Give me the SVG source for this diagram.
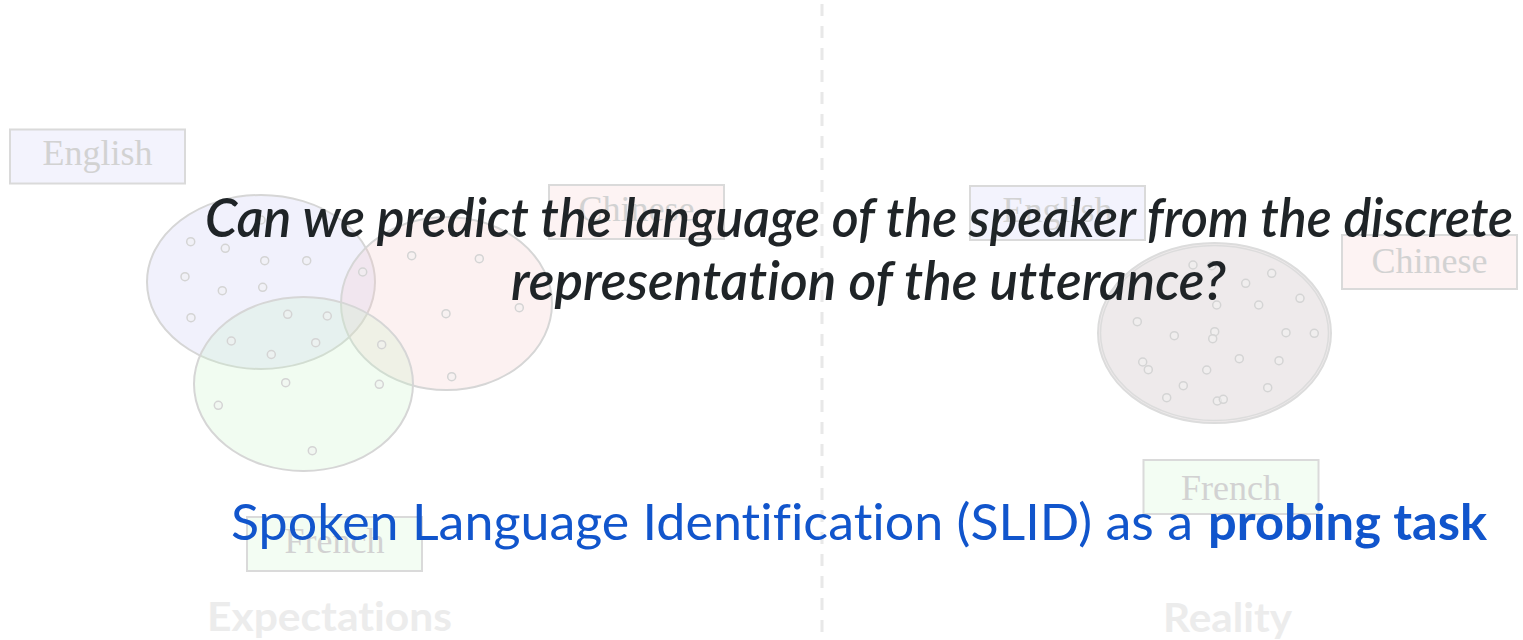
<svg xmlns="http://www.w3.org/2000/svg" width="1523" height="640" viewBox="0 0 1523 640">
<defs>
<style>
.bg{fill:#ffffff}
.div{stroke:#e8e8e8;stroke-width:3;stroke-dasharray:12 10;fill:none}
.ell{stroke:#d6d6d6;stroke-width:2}
.eb{fill:rgb(200,200,245);fill-opacity:0.25}
.er{fill:rgb(245,200,200);fill-opacity:0.25}
.eg{fill:rgb(200,245,200);fill-opacity:0.25}
.dot{fill:#f2f2f2;fill-opacity:0.5;stroke:#d4d4d4;stroke-width:1.5}
.box{stroke:#dadada;stroke-width:2}
.bxb{fill:#f3f3fd}
.bxr{fill:#fdf3f3}
.bxg{fill:#f3fdf3}
.lbl{font-family:"Liberation Serif",serif;font-size:36px;fill:#d2d2d2;text-anchor:middle}
.sec{font-family:Lato,"Liberation Sans",sans-serif;font-weight:bold;font-size:41px;fill:#ececec;font-variant-ligatures:none}
.q{font-family:Lato,"Liberation Sans",sans-serif;font-style:italic;font-weight:600;font-size:53px;fill:#1f2427;font-variant-ligatures:none}
.t{font-family:Lato,"Liberation Sans",sans-serif;font-size:50px;fill:#1155cc;font-variant-ligatures:none}
</style>
</defs>
<rect class="bg" x="0" y="0" width="1523" height="640"/>
<g id="divider">
<line class="div" x1="822" y1="4" x2="822" y2="640"/>
</g>
<g id="expectations">
<g id="cluster-english">
<ellipse class="ell eb" cx="261" cy="282" rx="114" ry="87"/>
</g>
<g id="cluster-chinese">
<ellipse class="ell er" cx="446.5" cy="303.5" rx="105.5" ry="86.5"/>
</g>
<g id="cluster-french">
<ellipse class="ell eg" cx="303.5" cy="384" rx="109.5" ry="87"/>
</g>
<g id="points-left">
<circle class="dot" cx="190.7" cy="241.7" r="4"/>
<circle class="dot" cx="225.3" cy="248.3" r="4"/>
<circle class="dot" cx="264.7" cy="260.7" r="4"/>
<circle class="dot" cx="306.7" cy="260.7" r="4"/>
<circle class="dot" cx="185" cy="276.7" r="4"/>
<circle class="dot" cx="222.3" cy="290.7" r="4"/>
<circle class="dot" cx="262.7" cy="287.3" r="4"/>
<circle class="dot" cx="191" cy="317.7" r="4"/>
<circle class="dot" cx="287.7" cy="314.3" r="4"/>
<circle class="dot" cx="327.3" cy="316" r="4"/>
<circle class="dot" cx="231.3" cy="341" r="4"/>
<circle class="dot" cx="271.3" cy="354.5" r="4"/>
<circle class="dot" cx="315.7" cy="342.7" r="4"/>
<circle class="dot" cx="261" cy="220" r="4"/>
<circle class="dot" cx="362.7" cy="272" r="4"/>
<circle class="dot" cx="411.7" cy="255.7" r="4"/>
<circle class="dot" cx="479.3" cy="258.7" r="4"/>
<circle class="dot" cx="446" cy="313.7" r="4"/>
<circle class="dot" cx="519.3" cy="307.7" r="4"/>
<circle class="dot" cx="381.7" cy="344.7" r="4"/>
<circle class="dot" cx="451.7" cy="376.7" r="4"/>
<circle class="dot" cx="379.3" cy="384.3" r="4"/>
<circle class="dot" cx="285.7" cy="382.7" r="4"/>
<circle class="dot" cx="218.3" cy="405.3" r="4"/>
<circle class="dot" cx="312.3" cy="450.7" r="4"/>
</g>
<g id="label-english-left">
<rect class="box bxb" x="10" y="129.5" width="175" height="54"/>
<text class="lbl" x="97.5" y="165">English</text>
</g>
<g id="label-chinese-left">
<rect class="box bxr" x="549" y="185" width="175" height="54"/>
<text class="lbl" x="636.5" y="221">Chinese</text>
</g>
<g id="label-french-left">
<rect class="box bxg" x="247" y="517" width="175" height="54"/>
<text class="lbl" x="334.5" y="553">French</text>
</g>
<g id="title-expectations">
<text class="sec" x="207" y="631" textLength="245" lengthAdjust="spacingAndGlyphs">Expectations</text>
</g>
</g>
<g id="reality">
<g id="cluster-mixed">
<ellipse cx="1214.5" cy="333" rx="116.5" ry="90" fill="#eeeaeb" stroke="#dcdcdc" stroke-width="2"/>
<ellipse cx="1214.5" cy="333" rx="114" ry="87.5" fill="none" stroke="#dcdcdc" stroke-width="1.5"/>
</g>
<g id="points-right">
<circle class="dot" cx="1211.7" cy="265.7" r="4"/>
<circle class="dot" cx="1271.7" cy="273.3" r="4"/>
<circle class="dot" cx="1245.7" cy="283.3" r="4"/>
<circle class="dot" cx="1300" cy="298.3" r="4"/>
<circle class="dot" cx="1216.7" cy="305" r="4"/>
<circle class="dot" cx="1258.7" cy="305" r="4"/>
<circle class="dot" cx="1137.3" cy="321.7" r="4"/>
<circle class="dot" cx="1174.3" cy="335.7" r="4"/>
<circle class="dot" cx="1214.7" cy="331.7" r="4"/>
<circle class="dot" cx="1212.7" cy="338.7" r="4"/>
<circle class="dot" cx="1286" cy="332.7" r="4"/>
<circle class="dot" cx="1314.3" cy="333.3" r="4"/>
<circle class="dot" cx="1142.7" cy="362" r="4"/>
<circle class="dot" cx="1148.3" cy="369.7" r="4"/>
<circle class="dot" cx="1239.3" cy="358.7" r="4"/>
<circle class="dot" cx="1279" cy="360.7" r="4"/>
<circle class="dot" cx="1206.7" cy="370" r="4"/>
<circle class="dot" cx="1183.3" cy="385.7" r="4"/>
<circle class="dot" cx="1267.7" cy="387.7" r="4"/>
<circle class="dot" cx="1166.7" cy="397.7" r="4"/>
<circle class="dot" cx="1217.3" cy="401" r="4"/>
<circle class="dot" cx="1223.3" cy="399.3" r="4"/>
<circle class="dot" cx="1193" cy="265" r="4"/>
</g>
<g id="label-english-right">
<rect class="box bxb" x="970" y="186" width="175" height="54"/>
<text class="lbl" x="1057.5" y="222">English</text>
</g>
<g id="label-chinese-right">
<rect class="box bxr" x="1342" y="235" width="175" height="54"/>
<text class="lbl" x="1429.5" y="273">Chinese</text>
</g>
<g id="label-french-right">
<rect class="box bxg" x="1143.5" y="460" width="175" height="54"/>
<text class="lbl" x="1231" y="500">French</text>
</g>
<g id="title-reality">
<text class="sec" x="1163" y="632" textLength="129" lengthAdjust="spacingAndGlyphs">Reality</text>
</g>
</g>
<g id="question">
<text class="q" x="205" y="237" textLength="1308" lengthAdjust="spacingAndGlyphs">Can we predict the language of the speaker from the discrete</text>
<text class="q" x="511" y="300" textLength="715" lengthAdjust="spacingAndGlyphs">representation of the utterance?</text>
</g>
<g id="subtitle">
<text class="t" x="231" y="540" textLength="962" lengthAdjust="spacingAndGlyphs">Spoken Language Identification (SLID) as a</text>
<text class="t" x="1208" y="540" font-weight="bold" textLength="279" lengthAdjust="spacingAndGlyphs">probing task</text>
</g>
</svg>
